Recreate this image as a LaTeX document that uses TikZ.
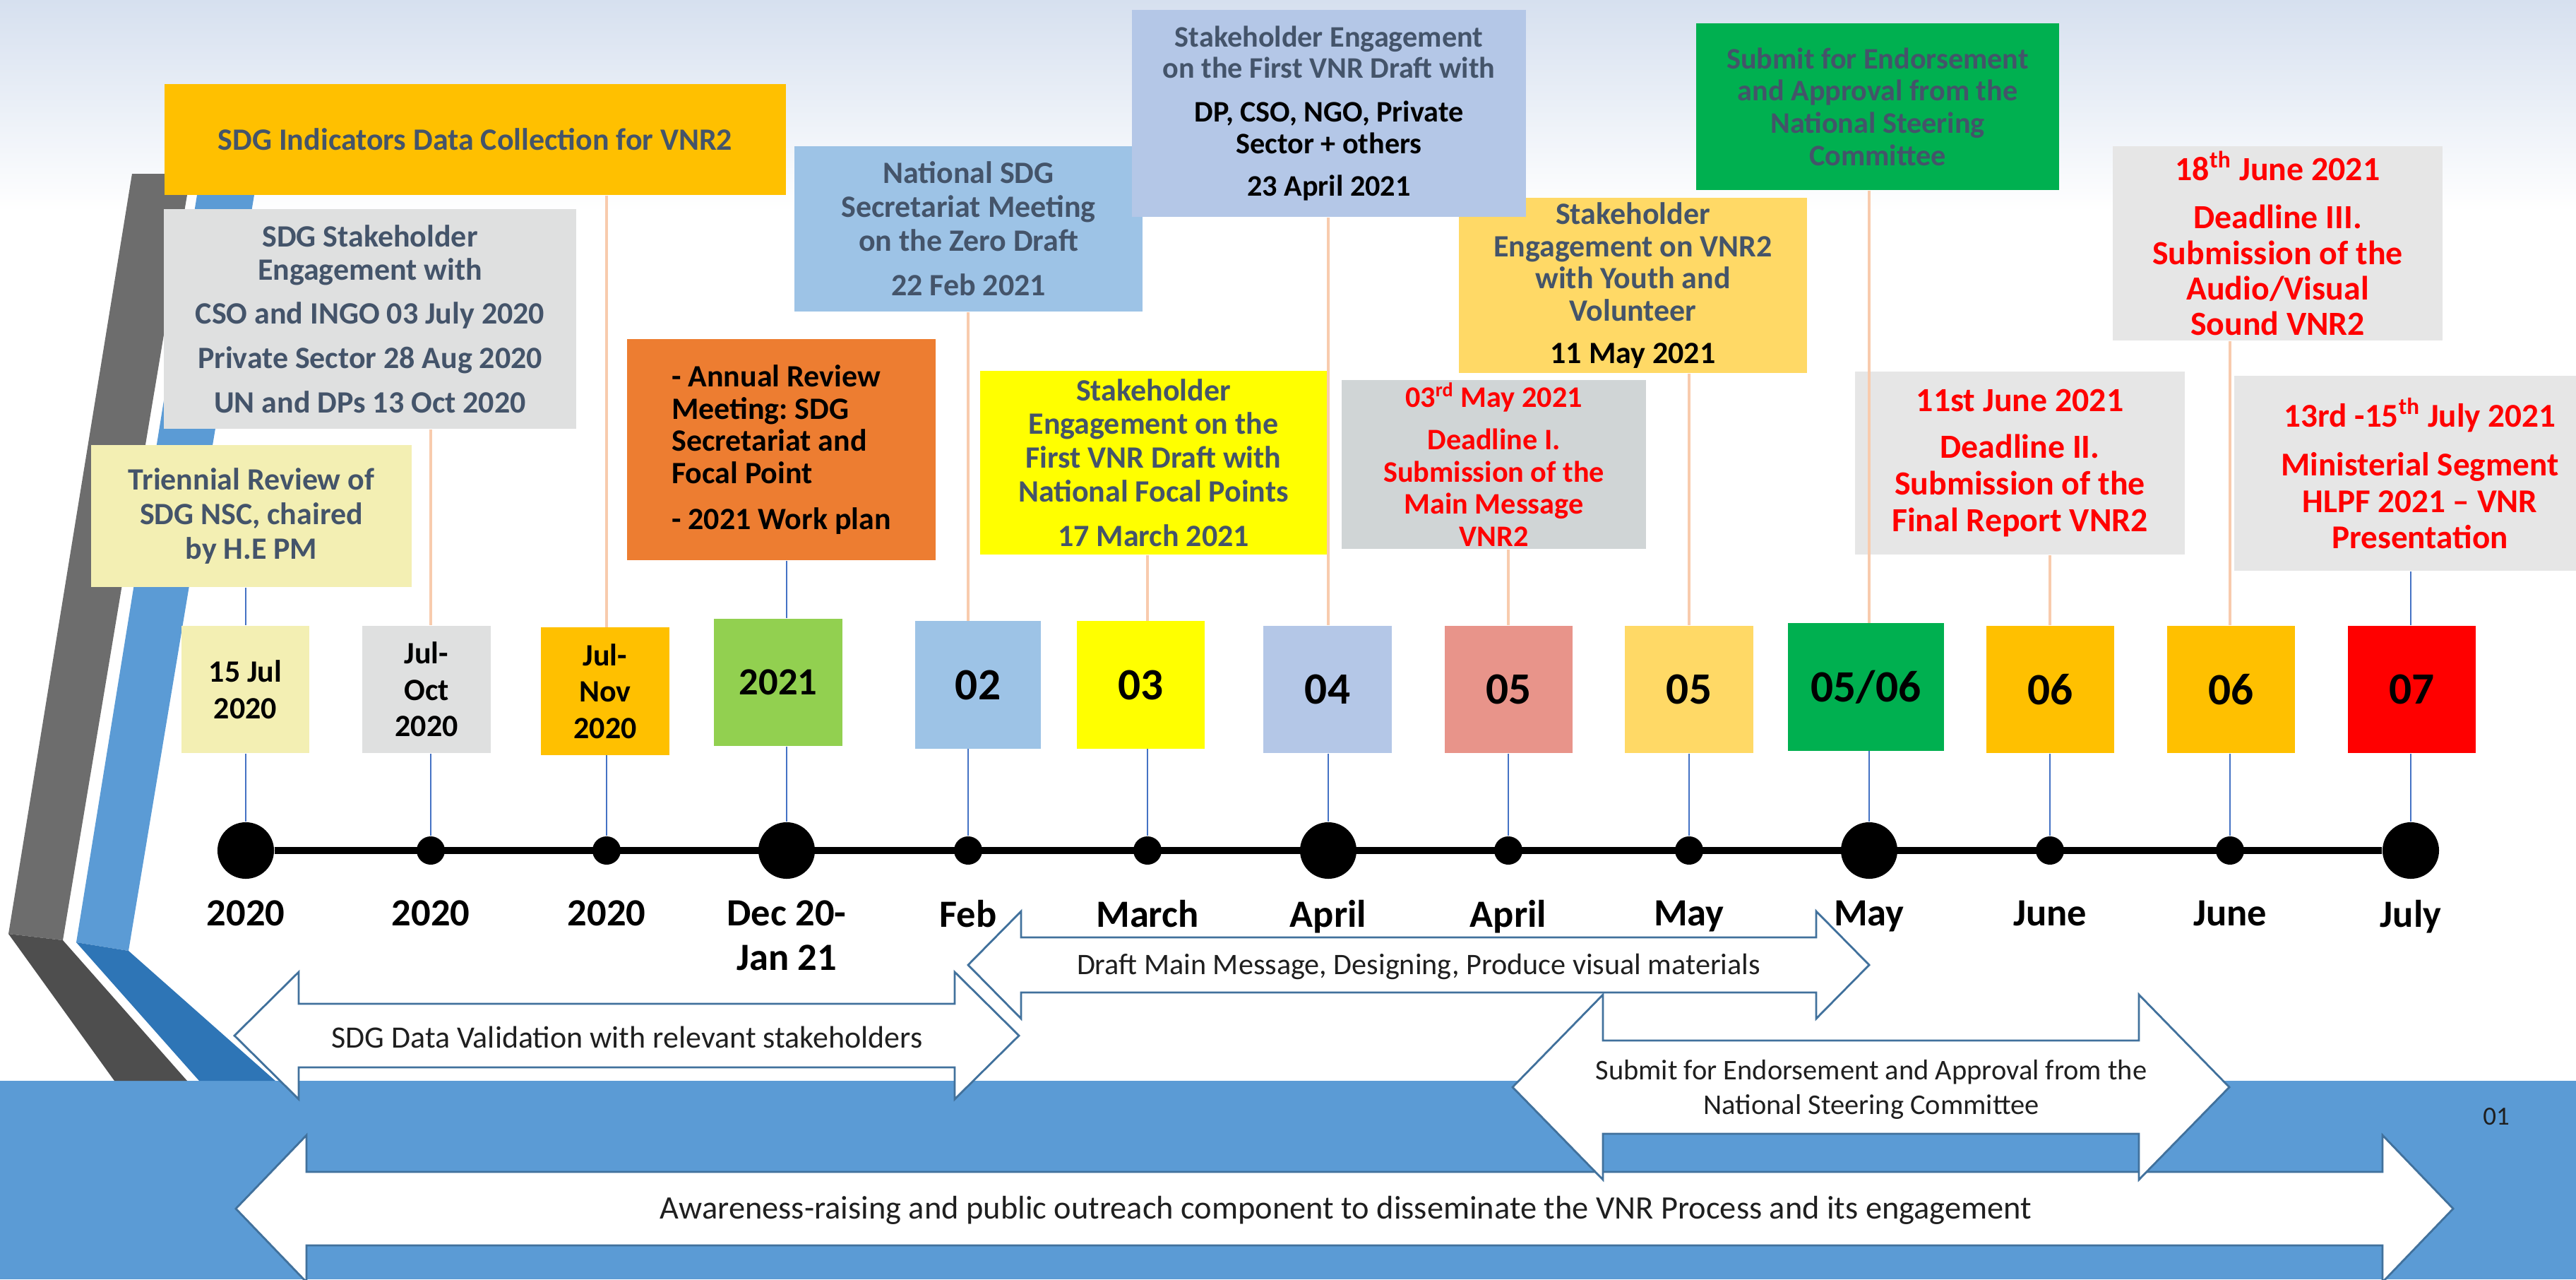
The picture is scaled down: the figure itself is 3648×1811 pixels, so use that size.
\documentclass[tikz,border=0pt]{standalone}
\usepackage{fontspec}
\setmainfont{Carlito}
\usepackage{tikz}
\usetikzlibrary{calc}
\frenchspacing

\definecolor{skytop}{HTML}{D6E0EF}
\definecolor{bandblue}{HTML}{5B9BD5}
\definecolor{darkblue}{HTML}{2E75B6}
\definecolor{greyup}{HTML}{6D6D6D}
\definecolor{greylow}{HTML}{4E4E4E}
\definecolor{slate}{HTML}{44546A}
\definecolor{amber}{HTML}{FFC000}
\definecolor{stonegrey}{HTML}{DFE0E0}
\definecolor{paleyellow}{HTML}{F3EFB3}
\definecolor{orangebox}{HTML}{ED7D31}
\definecolor{skyblue}{HTML}{9DC3E6}
\definecolor{lavender}{HTML}{B4C7E7}
\definecolor{brightyellow}{HTML}{FFFF00}
\definecolor{deadgrey}{HTML}{D0D5D6}
\definecolor{gold}{HTML}{FFD966}
\definecolor{leafgreen}{HTML}{00B050}
\definecolor{lightgrey}{HTML}{E6E6E6}
\definecolor{limegreen}{HTML}{92D050}
\definecolor{salmon}{HTML}{E8948A}
\definecolor{deadred}{HTML}{FF0000}
\definecolor{lineblue}{HTML}{4472C4}
\definecolor{lineorange}{HTML}{F8CBAD}
\definecolor{arrowblue}{HTML}{41719C}
\definecolor{arrowtext}{HTML}{1F1F1F}

\tikzset{
  planbox/.style={rectangle, inner sep=0pt, align=center, text=slate, font=\fontsize{12.5}{13.6}\selectfont\bfseries},
  datebox/.style={rectangle, inner sep=0pt, align=center, minimum width=1.81cm, minimum height=1.80cm, font=\fontsize{12.5}{14.7}\selectfont\bfseries},
  bignum/.style={font=\fontsize{18}{20}\selectfont\bfseries},
  bigdot/.style={circle, fill=black, inner sep=0pt, minimum size=0.80cm},
  smalldot/.style={circle, fill=black, inner sep=0pt, minimum size=0.40cm},
  month/.style={anchor=north, inner sep=0pt, align=center, font=\fontsize{15.5}{18}\selectfont\bfseries},
  blueline/.style={draw=lineblue, line width=0.5pt},
  orangeline/.style={draw=lineorange, line width=0.9pt},
  flowarrow/.style={fill=white, draw=arrowblue, line width=0.8pt},
  flowtext/.style={inner sep=0pt, align=center, text=arrowtext, font=\fontsize{12.5}{14}\selectfont},
}

% tip x1, tip x2, mid y, shaft half, head half, head length
\newcommand{\twowayarrow}[6]{%
  \draw[flowarrow] (#1,#3) -- (#1+#6,#3-#5) -- (#1+#6,#3-#4) -- (#2-#6,#3-#4) -- (#2-#6,#3-#5) -- (#2,#3)
    -- (#2-#6,#3+#5) -- (#2-#6,#3+#4) -- (#1+#6,#3+#4) -- (#1+#6,#3+#5) -- cycle;}

\begin{document}
\begin{tikzpicture}[x=0.01cm, y=-0.01cm]
\useasboundingbox (0,0) rectangle (3648,1811);
\clip (0,0) rectangle (3648,1811);

% background
\shade[top color=skytop, bottom color=white] (0,0) rectangle (3648,300);
\fill[bandblue] (0,1530) rectangle (3648,1811);

% ribbons on the left
\fill[greyup] (187,246) -- (270,246) -- (89,1331) -- (12,1322) -- cycle;
\fill[greylow] (12,1322) -- (89,1331) -- (265,1530) -- (162,1530) -- cycle;
\fill[bandblue] (280,270) -- (361,270) -- (182,1346) -- (108,1334) -- cycle;
\fill[darkblue] (108,1334) -- (182,1346) -- (390,1530) -- (282,1530) -- cycle;

% arrows
\twowayarrow{334}{3474}{1711}{52}{104}{100}
\twowayarrow{2142}{3157}{1539}{66}{131}{128}
\twowayarrow{1371}{2647}{1366}{39}{76}{75}
\twowayarrow{332}{1443}{1466}{45}{90}{91}

\node[flowtext] (validtxt) at (888,1468) {SDG Data Validation with relevant stakeholders};
\node[flowtext, font=\fontsize{12}{14}\selectfont] (drafttxt) at (2009,1368) {Draft Main Message, Designing, Produce visual materials};
\node[flowtext, font=\fontsize{11.5}{13.9}\selectfont] (endorsetxt) at (2650,1542) {Submit for Endorsement and Approval from the\\National Steering Committee};
\node[flowtext, font=\fontsize{13.2}{15}\selectfont] (awaretxt) at (1906,1713) {Awareness-raising and public outreach component to disseminate the VNR Process and its engagement};
\node[inner sep=0pt, text=arrowtext, font=\fontsize{10.5}{12}\selectfont] (pageno) at (3535,1581) {01};

% upper boxes
\node[planbox, fill=amber, minimum width=8.80cm, minimum height=1.57cm] (collect) at (673,197.5) {SDG Indicators Data Collection for VNR2};
\node[planbox, fill=stonegrey, minimum width=5.84cm, minimum height=3.11cm, font=\fontsize{12.5}{13.3}\selectfont\bfseries] (stake) at (524,451.5) {SDG Stakeholder\\Engagement with\\[4.5pt]CSO and INGO 03 July 2020\\[4.5pt]Private Sector 28 Aug 2020\\[4.5pt]UN and DPs 13 Oct 2020};
\node[planbox, fill=paleyellow, minimum width=4.54cm, minimum height=2.01cm, font=\fontsize{12.5}{13.9}\selectfont\bfseries] (trien) at (356,730.5) {Triennial Review of\\SDG NSC, chaired\\by H.E PM};
\node[planbox, fill=orangebox, text=black, align=left, minimum width=4.37cm, minimum height=3.13cm, font=\fontsize{12.5}{13}\selectfont\bfseries] (annual) at (1106.5,636.5) {- Annual Review\\Meeting: SDG\\Secretariat and\\Focal Point\\[5.5pt]- 2021 Work plan};
\node[planbox, fill=skyblue, minimum width=4.93cm, minimum height=2.34cm] (zero) at (1371.5,324) {National SDG\\Secretariat Meeting\\on the Zero Draft\\[4.5pt]22 Feb 2021};
\node[planbox, fill=gold, minimum width=4.93cm, minimum height=2.48cm, font=\fontsize{12.5}{13}\selectfont\bfseries] (youth) at (2312.5,404) {Stakeholder\\Engagement on VNR2\\with Youth and\\Volunteer\\[4pt]\textcolor{black}{11 May 2021}};
\node[planbox, fill=lavender, minimum width=5.58cm, minimum height=2.93cm, font=\fontsize{12}{12.6}\selectfont\bfseries] (april) at (1882,160.5) {Stakeholder Engagement\\on the First VNR Draft with\\[5pt]\textcolor{black}{DP, CSO, NGO, Private}\\\textcolor{black}{Sector + others}\\[4.5pt]\textcolor{black}{23 April 2021}};
\node[planbox, fill=brightyellow, minimum width=4.91cm, minimum height=2.60cm] (march) at (1633.5,655) {Stakeholder\\Engagement on the\\First VNR Draft with\\National Focal Points\\[4.3pt]17 March 2021};
\node[planbox, fill=deadgrey, text=deadred, minimum width=4.31cm, minimum height=2.39cm, font=\fontsize{12}{13}\selectfont\bfseries] (dlone) at (2115.5,657.5) {03\textsuperscript{rd} May 2021\\[4pt]Deadline I.\\Submission of the\\Main Message\\VNR2};
\node[planbox, fill=leafgreen, minimum width=5.14cm, minimum height=2.36cm, font=\fontsize{12}{13}\selectfont\bfseries] (endorse) at (2659,151) {Submit for Endorsement\\and Approval from the\\National Steering\\Committee};
\node[planbox, fill=lightgrey, text=deadred, minimum width=4.67cm, minimum height=2.75cm, font=\fontsize{13.6}{14.3}\selectfont\bfseries] (dlthree) at (3225.5,344.5) {18\textsuperscript{th} June 2021\\[5pt]Deadline III.\\Submission of the\\Audio/Visual\\Sound VNR2};
\node[planbox, fill=lightgrey, text=deadred, minimum width=4.67cm, minimum height=2.59cm, font=\fontsize{13.6}{14.7}\selectfont\bfseries] (dltwo) at (2860.5,655.5) {11st June 2021\\[4pt]Deadline II.\\Submission of the\\Final Report VNR2};
\node[planbox, fill=lightgrey, text=deadred, minimum width=5.26cm, minimum height=2.76cm, font=\fontsize{13.4}{14.6}\selectfont\bfseries] (hlpf) at (3427,670) {13rd -15\textsuperscript{th} July 2021\\[5pt]Ministerial Segment\\HLPF 2021 -- VNR\\Presentation};

% date boxes
\node[datebox, fill=paleyellow] (d1) at (347.5,976) {15 Jul\\2020};
\node[datebox, fill=stonegrey] (d2) at (604,976) {Jul-\\Oct\\2020};
\node[datebox, fill=amber] (d3) at (857,978.5) {Jul-\\Nov\\2020};
\node[datebox, fill=limegreen, font=\fontsize{15.5}{17}\selectfont\bfseries] (d4) at (1102,966) {2021};
\node[datebox, bignum, fill=skyblue, minimum width=1.78cm] (d5) at (1385,969.5) {02};
\node[datebox, bignum, fill=brightyellow] (d6) at (1615.5,969.5) {03};
\node[datebox, bignum, fill=lavender] (d7) at (1880,976) {04};
\node[datebox, bignum, fill=salmon] (d8) at (2136.5,976) {05};
\node[datebox, bignum, fill=gold] (d9) at (2392,976) {05};
\node[datebox, bignum, fill=leafgreen, minimum width=2.21cm] (d10) at (2642.5,972.5) {05/06};
\node[datebox, bignum, fill=amber] (d11) at (2903.5,976) {06};
\node[datebox, bignum, fill=amber] (d12) at (3159.5,976) {06};
\node[datebox, bignum, fill=deadred] (d13) at (3415.5,976) {07};

% timeline
\foreach \x/\kind/\lbl [count=\i] in {348/bigdot/2020, 610/smalldot/2020, 859/smalldot/2020, 1114/bigdot/{Dec 20-\\Jan 21}, 1371/smalldot/Feb, 1625/smalldot/March, 1881/bigdot/April, 2136/smalldot/April, 2392/smalldot/May, 2647/bigdot/May, 2903/smalldot/June, 3158/smalldot/June, 3414/bigdot/July}
{
  \node[\kind] (t\i) at (\x,1204) {};
  \node[month] (m\i) at (\x,1274) {\lbl};
}
\draw[line width=2.8pt] (t1) -- (t13);

% connectors
\foreach \up/\i/\sty in {trien/1/blueline, stake/2/orangeline, collect/3/orangeline, annual/4/blueline, zero/5/orangeline, march/6/orangeline, april/7/orangeline, dlone/8/orangeline, youth/9/orangeline, endorse/10/orangeline, dltwo/11/orangeline, dlthree/12/orangeline, hlpf/13/blueline}
{
  \draw[\sty] (t\i |- \up.south) -- (t\i |- d\i.north);
  \draw[blueline] (t\i |- d\i.south) -- (t\i);
}

\end{tikzpicture}
\end{document}
